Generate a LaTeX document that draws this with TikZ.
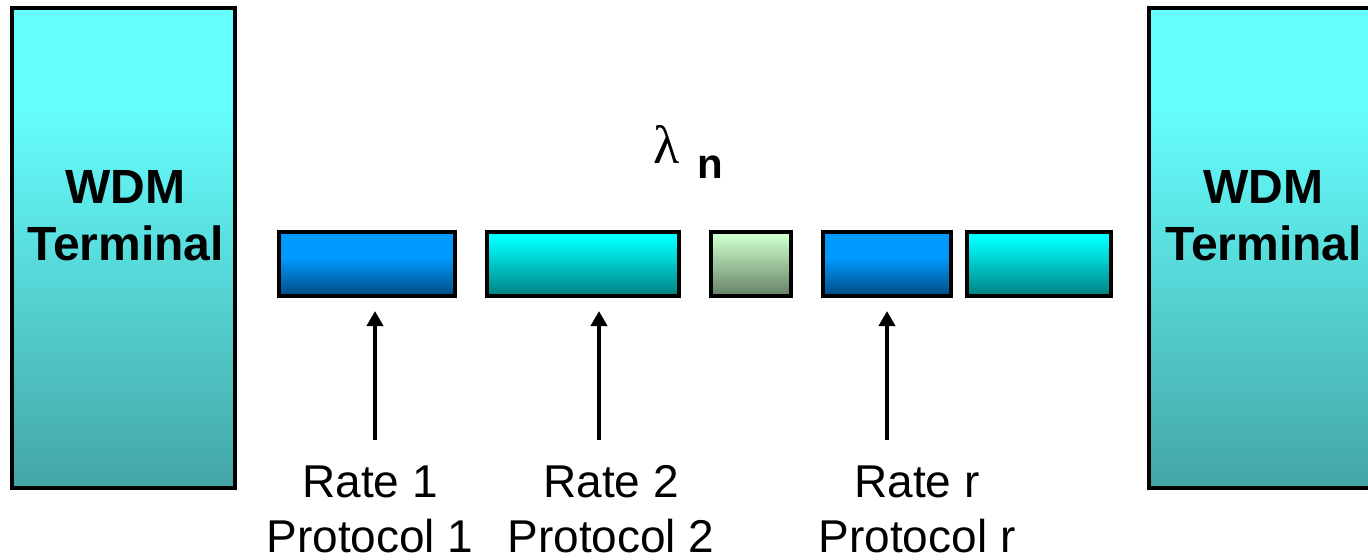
\documentclass[tikz,border=0pt]{standalone}
\usepackage{fontspec}
\setmainfont{Liberation Sans}
\newfontfamily\lambdafont{Liberation Serif}
\usetikzlibrary{arrows.meta}

% fill colours (top / bottom of each gradient)
\definecolor{termT}{RGB}{102,255,255}
\definecolor{termB}{RGB}{68,165,165}
\definecolor{blueT}{RGB}{0,153,255}
\definecolor{blueB}{RGB}{0,76,128}
\definecolor{cyanT}{RGB}{0,255,255}
\definecolor{cyanB}{RGB}{0,128,128}
\definecolor{greenT}{RGB}{204,255,204}
\definecolor{greenB}{RGB}{102,128,102}

% vertical gradients: 25bp = bottom edge, 75bp = top edge of the filled shape
\pgfdeclareverticalshading{termshade}{100bp}{color(0bp)=(termB); color(25bp)=(termB); color(65bp)=(termT); color(100bp)=(termT)}
\pgfdeclareverticalshading{blueshade}{100bp}{color(0bp)=(blueB); color(25bp)=(blueB); color(55bp)=(blueT); color(100bp)=(blueT)}
\pgfdeclareverticalshading{cyanshade}{100bp}{color(0bp)=(cyanB); color(25bp)=(cyanB); color(70bp)=(cyanT); color(100bp)=(cyanT)}
\pgfdeclareverticalshading{greenshade}{100bp}{color(0bp)=(greenB); color(25bp)=(greenB); color(72bp)=(greenT); color(100bp)=(greenT)}

\tikzset{
  box/.style={draw=black, line width=2pt, rectangle, inner sep=0pt, outer sep=0pt},
  termbox/.style={box, shading=termshade, minimum width=111.5pt, minimum height=240pt},
  slot/.style={box, minimum height=32pt},
  blueslot/.style={slot, shading=blueshade},
  cyanslot/.style={slot, shading=cyanshade},
  greenslot/.style={slot, shading=greenshade},
  termtext/.style={font=\bfseries\fontsize{24pt}{28.5pt}\selectfont, align=center, inner sep=0pt, anchor=base},
  ratetext/.style={font=\fontsize{23pt}{27.5pt}\selectfont, align=center, inner sep=0pt, anchor=base},
  feed/.style={line width=2pt, -{Triangle[length=7.5pt,width=8pt]}, shorten >=7.5pt},
}

\begin{document}
\begin{tikzpicture}[x=0.5pt, y=-0.5pt]
  \useasboundingbox (0,0) rectangle (1368,559);

  % WDM terminals at both ends
  \node[termbox] (termL) at (123.5,248) {};
  \node[termbox] (termR) at (1260.5,248) {};
  \node[termtext] (termLtext) at (125.5,260) {WDM\\Terminal};
  \node[termtext] (termRtext) at (1263.5,260) {WDM\\Terminal};

  % wavelength label
  \node[inner sep=0pt, anchor=base west, font=\lambdafont\fontsize{27pt}{30pt}\selectfont] (lambda) at (653,163) {λ};
  \node[inner sep=0pt, anchor=base west, font=\bfseries\fontsize{21pt}{25pt}\selectfont] (lambdan) at (697,178) {n};

  % time slots on the wavelength
  \node[blueslot,  minimum width=88pt] (s1) at (367,264) {};
  \node[cyanslot,  minimum width=96pt] (s2) at (583,264) {};
  \node[greenslot, minimum width=40pt] (s3) at (751,264) {};
  \node[blueslot,  minimum width=64pt] (s4) at (887,264) {};
  \node[cyanslot,  minimum width=72pt] (s5) at (1039,264) {};

  % client signals (anchored at the baseline of the second line)
  \node[ratetext] (c1) at (370,552) {Rate 1\\Protocol 1};
  \node[ratetext] (c2) at (611,552) {Rate 2\\Protocol 2};
  \node[ratetext] (c3) at (917,552) {Rate r\\Protocol r};

  \coordinate (t1) at (375,440);
  \coordinate (t2) at (599,440);
  \coordinate (t3) at (887,440);
  \draw[feed] (t1) -- (t1 |- s1.south);
  \draw[feed] (t2) -- (t2 |- s2.south);
  \draw[feed] (t3) -- (t3 |- s4.south);
\end{tikzpicture}
\end{document}
